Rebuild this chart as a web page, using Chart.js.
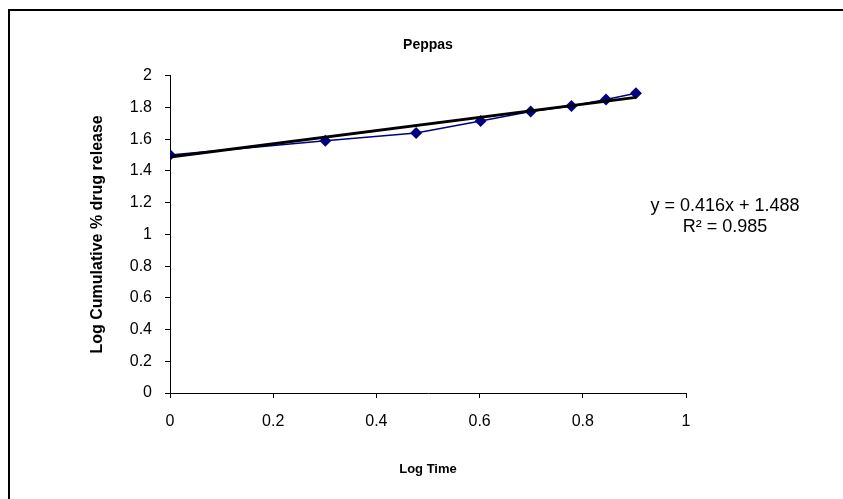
<!DOCTYPE html>
<html>
<head>
<meta charset="utf-8">
<script src="https://cdn.jsdelivr.net/npm/chart.js@4/dist/chart.umd.min.js"></script>
<style>
    html, body { margin: 0; padding: 0; background: #fff; overflow: hidden; }
    #wrap { position: relative; width: 843px; height: 499px; }
    #frame { position: absolute; left: 8px; top: 9px; width: 860px; height: 520px;
             border: 2px solid #000; box-sizing: border-box; }
    #c { position: absolute; left: 0; top: 0; }
</style>
</head>
<body>
<div id="wrap">
    <div id="frame"></div>
    <canvas id="c" width="843" height="499"></canvas>
</div>
<script>
/* ── data ── */
const logTime    = [0, 0.301, 0.477, 0.602, 0.699, 0.778, 0.845, 0.903];
const logRelease = [1.50, 1.59, 1.64, 1.715, 1.775, 1.81, 1.85, 1.89];

/* Excel linear trendline, drawn over the data range */
const trendX = [0, 0.903];
const trendY = [1.488, 1.864];
const eqLines = ['y = 0.416x + 1.488', 'R\u00b2 = 0.985'];

const xTickVals = [0, 0.2, 0.4, 0.6, 0.8, 1];
const yTickVals = [0, 0.2, 0.4, 0.6, 0.8, 1, 1.2, 1.4, 1.6, 1.8, 2];

const FONT = "'Liberation Sans', Arial, sans-serif";
Chart.defaults.font.family = FONT;
Chart.defaults.color = '#000';

/* ===================== EQUATION LABEL ===================== */
const eqLabel = {
    id: 'eqLabel',
    afterDraw(chart) {
        const { ctx, chartArea } = chart;
        ctx.save();
        ctx.font = '18px ' + FONT;
        ctx.fillStyle = '#000';
        ctx.textAlign = 'center';
        ctx.textBaseline = 'middle';
        const cx = chartArea.right + 39;
        const cy = chartArea.top + 130;
        eqLines.forEach((t, i) => ctx.fillText(t, cx, cy + i * 21));
        ctx.restore();
    }
};

const pts = (xs, ys) => xs.map((x, i) => ({ x, y: ys[i] }));

new Chart(document.getElementById('c'), {
    type: 'scatter',
    data: {
        datasets: [
            {
                data: pts(logTime, logRelease),
                showLine: true,
                borderColor: '#000080',
                borderWidth: 1.5,
                backgroundColor: '#000080',
                pointStyle: 'rectRot',
                pointRadius: 6,
                pointBorderWidth: 0,
                order: 2
            },
            {
                data: pts(trendX, trendY),
                showLine: true,
                borderColor: '#000',
                borderWidth: 3,
                pointRadius: 0,
                order: 1
            }
        ]
    },
    options: {
        responsive: false,
        animation: false,
        layout: { padding: { left: 0, top: 0, right: 157, bottom: 0 } },
        plugins: {
            legend: { display: false },
            tooltip: { enabled: false },
            title: {
                display: true,
                fullSize: false,
                text: 'Peppas',
                color: '#000',
                font: { size: 14, weight: 'bold' },
                padding: { top: 37, bottom: 22 }
            }
        },
        scales: {
            x: {
                type: 'linear',
                min: 0, max: 1,
                afterBuildTicks: s => { s.ticks = xTickVals.map(v => ({ value: v })); },
                afterFit: s => { s.height = 106; },
                ticks: { font: { size: 16 }, padding: 14, color: '#000', callback: v => String(v) },
                grid: { drawOnChartArea: false, drawTicks: true, tickLength: 5, color: '#000' },
                border: { color: '#000', width: 1 },
                title: {
                    display: true, text: 'Log Time', color: '#000',
                    font: { size: 13, weight: 'bold' },
                    padding: { top: 0, bottom: 22 }
                }
            },
            y: {
                type: 'linear',
                min: 0, max: 2,
                afterBuildTicks: s => { s.ticks = yTickVals.map(v => ({ value: v })); },
                afterFit: s => { s.width = 170; },
                ticks: { font: { size: 16 }, padding: 13, color: '#000', callback: v => String(v) },
                grid: { drawOnChartArea: false, drawTicks: true, tickLength: 5, color: '#000' },
                border: { color: '#000', width: 1 },
                title: {
                    display: true, text: 'Log Cumulative % drug release', color: '#000',
                    font: { size: 16, weight: 'bold' },
                    padding: { top: 88, bottom: 0 }
                }
            }
        }
    },
    plugins: [eqLabel]
});
</script>
</body>
</html>
